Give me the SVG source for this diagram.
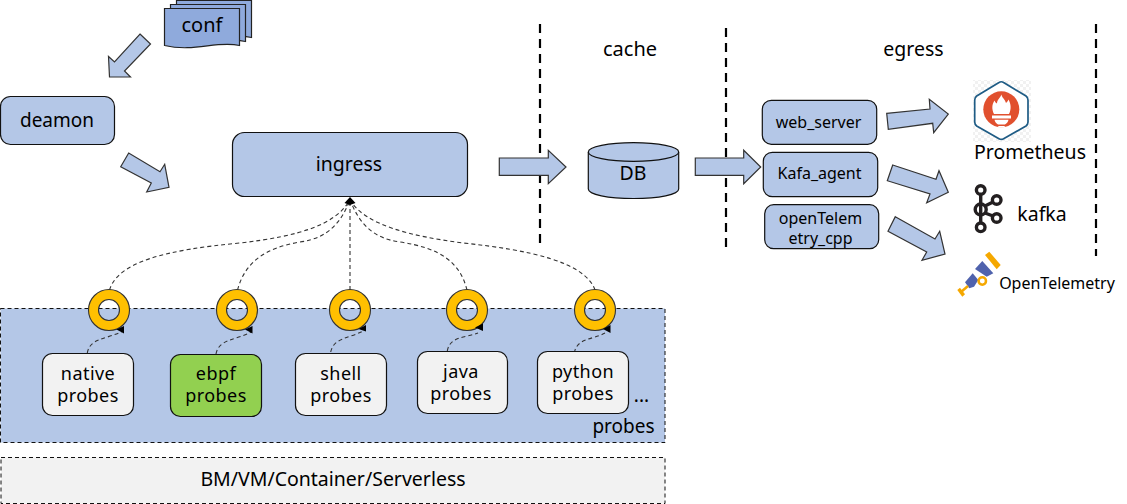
<svg xmlns="http://www.w3.org/2000/svg" width="1127" height="504" viewBox="0 0 1127 504">
<defs>
<style>
text{font-family:"Noto Sans","Open Sans","Liberation Sans",sans-serif;fill:#000;text-anchor:middle}
.t20{font-size:20px}.t19{font-size:19px}.t195{font-size:19.5px}.t16{font-size:16px}
.pl{font-size:18px;letter-spacing:0.45px}
.box{fill:#B4C7E7;stroke:#111;stroke-width:1.2}
.arrow{fill:#B4C7E7;stroke:#333;stroke-width:1.2}
.doc{fill:#8FAADC;stroke:#222;stroke-width:1.2}
.probe{fill:#F2F2F2;stroke:#111;stroke-width:1.2}
.sep{fill:none;stroke:#000;stroke-width:2.2;stroke-dasharray:9 6}
.flow{fill:none;stroke:#333;stroke-width:1.1;stroke-dasharray:4 3}
.ring{fill:#FFC000;fill-rule:evenodd;stroke:#333;stroke-width:1.1}
.head{fill:#000}
.kn{fill:none;stroke:#231F20;stroke-width:3.4}
.otb{fill:#4F62AD}.oto{fill:#F5A800}
</style>
<path id="doc" d="M0 0H75V37C52 32 30 44 0 37Z"/>
<path id="ringshape" d="M-20.5 0A20.5 20.5 0 1 0 20.5 0A20.5 20.5 0 1 0 -20.5 0ZM-10.5 0A10.5 10.5 0 1 1 10.5 0A10.5 10.5 0 1 1 -10.5 0Z"/>
<pattern id="check" width="6" height="6" patternUnits="userSpaceOnUse"><rect width="6" height="6" fill="#fff"/><rect width="3" height="3" fill="#F1F1F1"/><rect x="3" y="3" width="3" height="3" fill="#F1F1F1"/></pattern>
</defs>
<rect width="1127" height="504" fill="#fff"/>

<g id="separators">
<path class="sep" d="M540 24V245"/>
<path class="sep" d="M726 28V252"/>
<path class="sep" d="M1096 24V256"/>
</g>

<g id="probes">
<rect x="0.5" y="308.5" width="664.5" height="134" fill="#B4C7E7" stroke="#111" stroke-width="1" stroke-dasharray="4 3"/>
<text class="t19" x="623.5" y="433">probes</text>
<text class="t19" x="641.5" y="402">...</text>
</g>

<g id="platform">
<rect x="1" y="457.5" width="664" height="46" fill="#F2F2F2" stroke="#111" stroke-width="1" stroke-dasharray="4 3"/>
<text class="t195" x="333" y="486">BM/VM/Container/Serverless</text>
</g>

<g id="connectors">
<polygon class="arrow" points="140,34 150.5,44 124.5,71 130.5,77 109.5,77 108.5,56.5 114.5,62"/>
<polygon class="arrow" points="128.7,153 120.7,166.7 151.3,183 146.7,192 169,187.3 164.7,164.3 160,171.7"/>
<polygon class="arrow" points="499.3,158 548.3,158 548.3,150.3 566,167 548.3,183.7 548.3,175.3 499.3,175.3"/>
<polygon class="arrow" points="695.3,158 743.7,158 743.7,150.3 760.7,167 743.7,183.7 743.7,175.3 695.3,175.3"/>
<polygon class="arrow" points="886.7,113.3 930,109 929.3,99.3 948.3,114 933.7,132.7 932.7,123.3 888.3,129.3"/>
<polygon class="arrow" points="892.7,165 936,179.3 939,170.7 948.3,192.3 926.7,202.7 930,194 887.3,180.7"/>
<polygon class="arrow" points="895.3,216.7 935,239 939.7,231.3 945,254 922,260.3 926.7,252 888,231.3"/>
<path class="flow" d="M109.5 290C118 262 165 250 240 243C300 236 335 225 350 200"/>
<path class="flow" d="M237.5 290C245 262 265 248 300 242C330 238 342 220 350 200"/>
<path class="flow" d="M350 290V200"/>
<path class="flow" d="M467 290C460 262 440 248 400 242C370 238 358 220 350 200"/>
<path class="flow" d="M595 290C585 262 530 250 463 243C410 236 365 225 350 200"/>
<path class="head" d="M350 197L355.5 203L350 205L344.5 203Z"/>
<path class="flow" d="M87.3 353C90 338 105 340 123 331"/>
<path class="flow" d="M216 354C219 339 234 341 251 332"/>
<path class="flow" d="M330.7 352C334 337 349 339 365 330"/>
<path class="flow" d="M447.3 351C450 336 465 338 478 333"/>
<path class="flow" d="M574.3 353C577 338 592 340 605 333"/>
</g>

<g id="conf">
<use href="#doc" class="doc" x="176.5" y="0.5"/>
<use href="#doc" class="doc" x="170.5" y="4.5"/>
<use href="#doc" class="doc" x="164.5" y="8.5"/>
<text class="t20" x="202" y="32">conf</text>
</g>

<g id="deamon">
<rect class="box" x="0.5" y="96.5" width="114" height="48" rx="10"/>
<text class="t19" x="57" y="127">deamon</text>
</g>

<g id="ingress">
<rect class="box" x="232.5" y="132.5" width="235" height="64" rx="12"/>
<text class="t195" x="349" y="171">ingress</text>
</g>

<g id="cache">
<text class="t20" x="630" y="56">cache</text>
</g>

<g id="db">
<path class="box" d="M588.3 152V189C588.3 194.5 608 198.5 633.5 198.5S678.7 194.5 678.7 189V152"/>
<ellipse class="box" cx="633.5" cy="152" rx="45.2" ry="9.3"/>
<text class="t195" x="633" y="180">DB</text>
</g>

<g id="egress">
<text class="t195" x="913.5" y="56">egress</text>
</g>

<g id="web_server">
<rect class="box" x="762.3" y="100.3" width="114.4" height="44" rx="9"/>
<text class="t16" x="818.5" y="128">web_server</text>
</g>
<g id="kafa_agent">
<rect class="box" x="763.3" y="152.3" width="114.4" height="44.4" rx="9"/>
<text class="t16" x="819.5" y="179">Kafa_agent</text>
</g>
<g id="opentelemetry_cpp">
<rect class="box" x="764.7" y="204.7" width="114" height="44" rx="9"/>
<text class="t16" x="820.5" y="224">openTelem<tspan x="820.5" dy="20">etry_cpp</tspan></text>
</g>

<g id="ring-native"><use href="#ringshape" class="ring" x="109" y="310"/><path class="head" d="M124 326L116.5 329.5L124 333.5Z"/></g>
<g id="ring-ebpf"><use href="#ringshape" class="ring" x="237" y="310"/><path class="head" d="M252.5 326L245 329.5L252.5 333.5Z"/></g>
<g id="ring-shell"><use href="#ringshape" class="ring" x="350" y="310"/><path class="head" d="M366 325L358.5 329L366 331.5Z"/></g>
<g id="ring-java"><use href="#ringshape" class="ring" x="467" y="310"/><path class="head" d="M483 323.5L475 327.5L483 331Z"/></g>
<g id="ring-python"><use href="#ringshape" class="ring" x="595" y="310"/><path class="head" d="M610.5 325L603 329L610.5 333Z"/></g>

<g id="native">
<rect class="probe" x="42.5" y="353.5" width="91" height="62" rx="10"/>
<text class="pl" x="88" y="380">native<tspan x="88" dy="22">probes</tspan></text>
</g>
<g id="ebpf">
<rect x="170.5" y="354.5" width="91" height="62" rx="10" fill="#92D050" stroke="#111" stroke-width="1.2"/>
<text class="pl" x="216" y="380">ebpf<tspan x="216" dy="22">probes</tspan></text>
</g>
<g id="shell">
<rect class="probe" x="295.5" y="353.5" width="91" height="62" rx="10"/>
<text class="pl" x="341" y="380">shell<tspan x="341" dy="22">probes</tspan></text>
</g>
<g id="java">
<rect class="probe" x="417.5" y="351.5" width="90" height="62" rx="10"/>
<text class="pl" x="461" y="378">java<tspan x="461" dy="22">probes</tspan></text>
</g>
<g id="python">
<rect class="probe" x="537.5" y="351.5" width="91" height="62" rx="10"/>
<text class="pl" x="583" y="378">python<tspan x="583" dy="22">probes</tspan></text>
</g>

<g id="prometheus">
<rect x="973" y="80" width="58" height="62" fill="url(#check)"/>
<path d="M999 82.5Q1001.3 81 1003.6 82.5L1026 96Q1028 97.5 1028 100V122Q1028 124.5 1026 126L1003.6 138.7Q1001.3 140 999 138.7L976.7 126Q974.7 124.5 974.7 122V100Q974.7 97.5 976.7 96Z" fill="#fff" stroke="#1F5C85" stroke-width="1.7"/>
<circle cx="1001.3" cy="109.3" r="18" fill="#E1502E"/>
<path d="M1001.5 94.5C1002 98 1005 99 1006 103C1007 102 1008 101 1008.5 99.5C1011 104 1011.5 109 1009 114H994C991.5 109 992 104 994.5 100.5C995 102 996 103 997 103.5C997 100 1000 98 1001.5 94.5Z" fill="#fff"/>
<path d="M992 115.5H1011V118.5H992ZM994.5 119.8H1008.5C1008 122 1007 123.5 1005 124.5H998C996 123.5 995 122 994.5 119.8ZM997.5 126H1005.5Q1004 127.5 1001.5 127.5T997.5 126Z" fill="#fff"/>
<text class="t195" x="1030" y="159">Prometheus</text>
</g>

<g id="kafka">
<path class="kn" d="M980.7 195V223M985 206L993 202M985 213L993 216"/>
<circle class="kn" cx="980.7" cy="190" r="4.3"/>
<circle class="kn" cx="980.7" cy="209.5" r="5.5"/>
<circle class="kn" cx="980.7" cy="227.3" r="4.3"/>
<circle class="kn" cx="996.7" cy="200" r="4.3"/>
<circle class="kn" cx="996.7" cy="218" r="4.3"/>
<text class="t195" x="1042" y="221">kafka</text>
</g>

<g id="opentelemetry">
<polygon class="oto" points="985,255 989.3,251.7 1000.7,265 996.7,269.3"/>
<polygon class="otb" points="975,269 982.3,261 993.3,273.3 986.7,276.7"/>
<polygon class="otb" points="965,282.3 972.7,273.3 978.3,280 974,286.7 969.3,288.3"/>
<circle cx="982.3" cy="281" r="3.7" fill="none" stroke="#F5A800" stroke-width="2.5"/>
<path d="M961 292L968 286" stroke="#F5A800" stroke-width="2.5" fill="none"/>
<polygon class="oto" points="957.3,290 960,287.7 965,294.3 962.3,296.7"/>
<text class="t16" x="1057" y="289">OpenTelemetry</text>
</g>
</svg>
